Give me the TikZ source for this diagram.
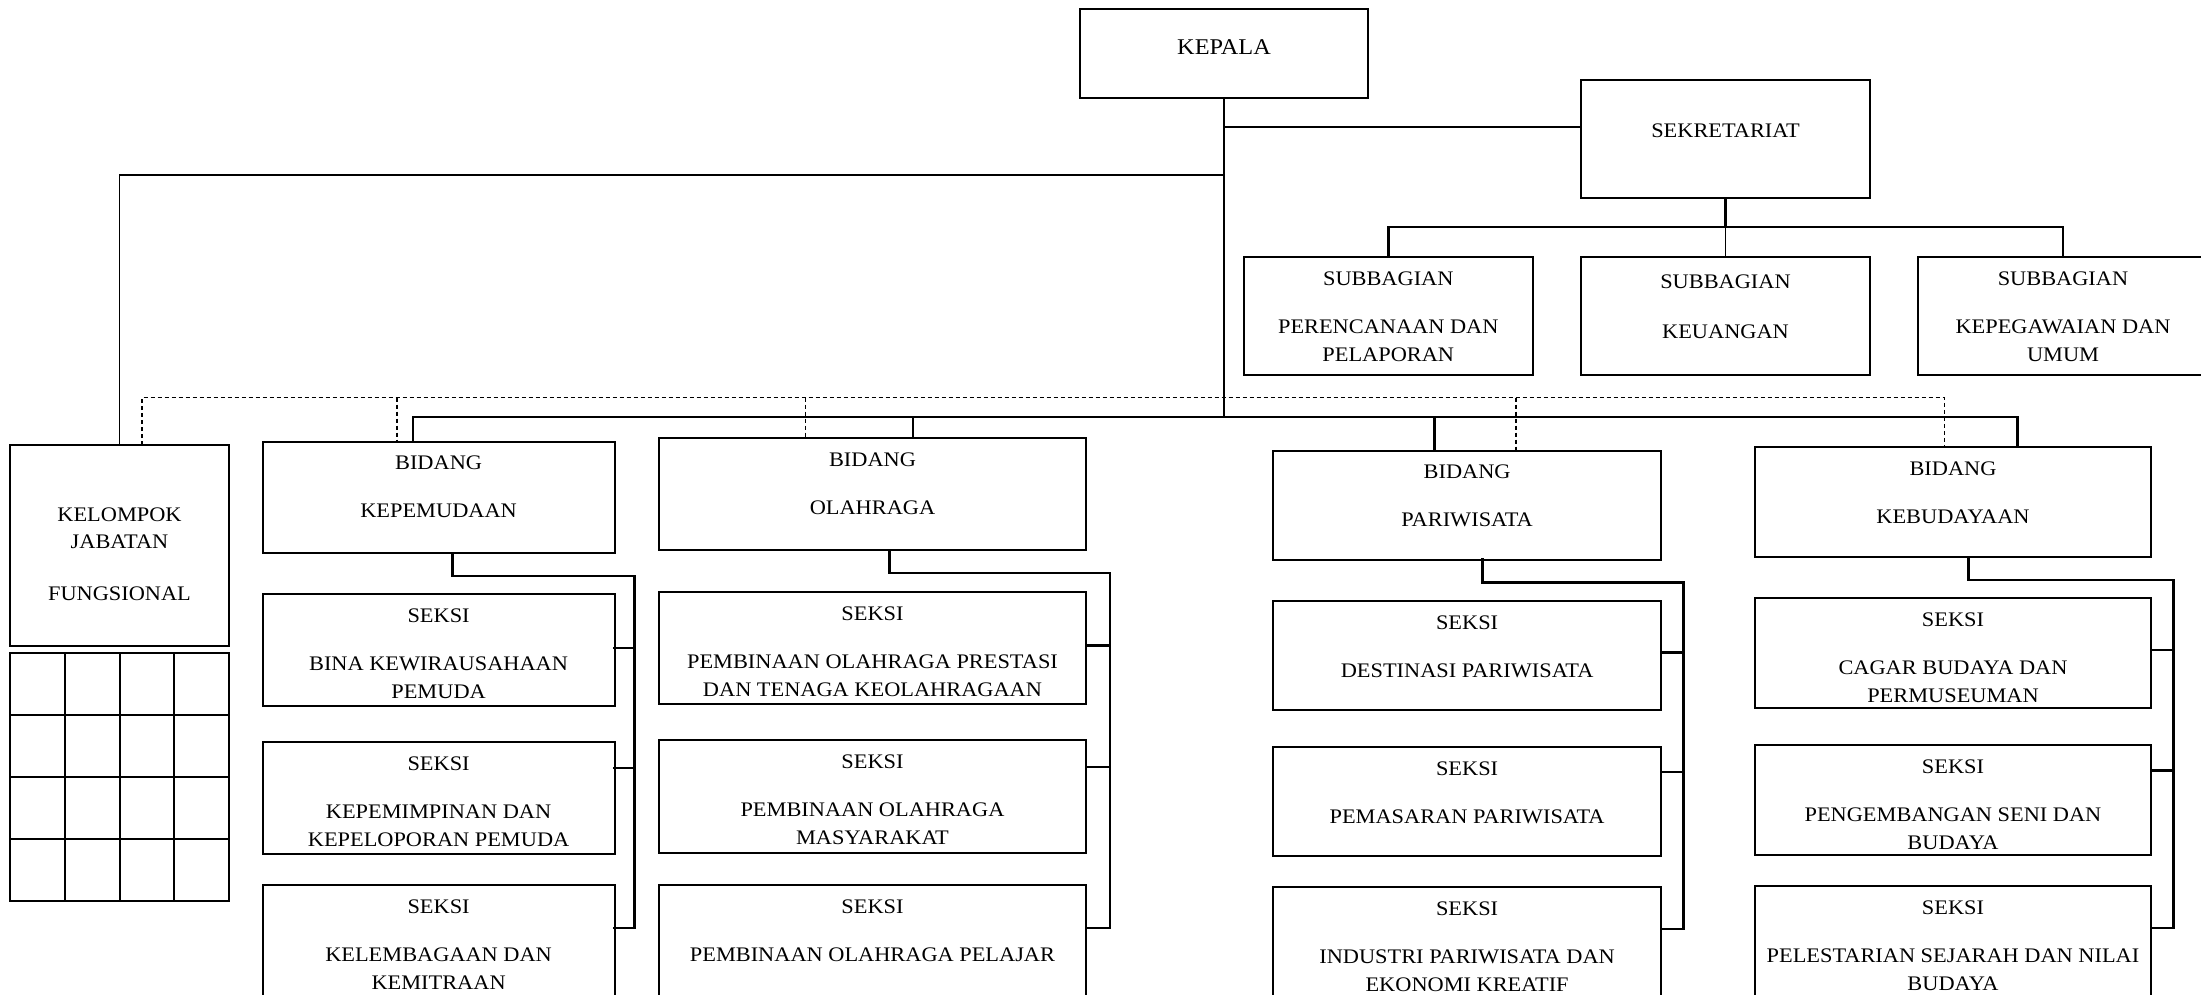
\documentclass[tikz,border=0pt]{standalone}
\usepackage{fontspec}
\setmainfont{Liberation Serif}[FakeStretch=1.08]
\usetikzlibrary{calc}
\tikzset{
  box/.style={draw, line width=2pt, rectangle, inner sep=0pt, outer sep=0pt},
  lbl/.style={anchor=base, inner sep=0pt, font=\fontsize{20.7}{24}\selectfont},
  biglbl/.style={anchor=base, inner sep=0pt, font=\fontsize{22.5}{26}\selectfont},
  conn/.style={line width=2.8pt, line cap=rect},
  thinline/.style={line width=1.5pt},
  dashline/.style={line width=1.6pt, dash pattern=on 4.5pt off 2.5pt},
}
\newcommand\orgbox[8]{%
  \node[box, minimum width={#4-#2}, minimum height={#5-#3}, anchor=north west] (#1) at (#2,#3) {};
  \node[lbl] (#1-a) at ($(#1.north)+(0,28.35)$) {#6};
  \node[lbl] (#1-b) at ($(#1.north)+(0,76.35)$) {#7};
  \if\relax\detokenize{#8}\relax\else
  \node[lbl] (#1-c) at ($(#1.north)+(0,104.35)$) {#8};\fi
}
\begin{document}
\begin{tikzpicture}[x=1pt,y=-1pt]
\useasboundingbox (0,0) rectangle (2201,995);
\clip (0,0) rectangle (2201,995);

% top level
\node[box, minimum width=288, minimum height=89, anchor=north west] (kepala) at (1080,9) {};
\node[biglbl] (kepala-t) at (1224,54.2) {KEPALA};
\node[box, minimum width=289, minimum height=118, anchor=north west] (sekr) at (1581,80) {};
\node[lbl] (sekr-t) at (1725.5,137.85) {SEKRETARIAT};

% subbagian
\orgbox{sub1}{1243.6}{257}{1533}{375}{SUBBAGIAN}{PERENCANAAN DAN}{PELAPORAN}
\node[box, minimum width=289, minimum height=118, anchor=north west] (sub2) at (1581,257) {};
\node[lbl] (sub2-a) at (1725.5,288.85) {SUBBAGIAN};
\node[lbl] (sub2-b) at (1725.5,338.85) {KEUANGAN};
\orgbox{sub3}{1918}{257}{2208}{375}{SUBBAGIAN}{KEPEGAWAIAN DAN}{UMUM}

% kelompok jabatan fungsional
\node[box, minimum width=219, minimum height=200.5, anchor=north west] (kel) at (10,445) {};
\node[lbl] (kel-a) at (119.5,521.85) {KELOMPOK};
\node[lbl] (kel-b) at (119.5,548.45) {JABATAN};
\node[lbl] (kel-c) at (119.5,600.55) {FUNGSIONAL};
\node[box, minimum width=219, minimum height=247.5, anchor=north west] (grid) at (10,653.3) {};
\foreach \i in {1,2,3}{
  \draw[line width=2pt] ($(grid.north west)+(\i*54.75,0)$) -- ($(grid.south west)+(\i*54.75,0)$);
  \draw[line width=2pt] ($(grid.north west)+(0,\i*61.875)$) -- ($(grid.north east)+(0,\i*61.875)$);
}

% bidang
\orgbox{bk}{262.5}{441.6}{614.7}{553}{BIDANG}{KEPEMUDAAN}{}
\orgbox{ob}{659}{438}{1086}{550}{BIDANG}{OLAHRAGA}{}
\orgbox{pb}{1272.8}{450.6}{1661.4}{559.6}{BIDANG}{PARIWISATA}{}
\orgbox{kb}{1754.7}{446.7}{2151.3}{556.9}{BIDANG}{KEBUDAYAAN}{}

% seksi kepemudaan
\orgbox{K1}{262.5}{594}{614.7}{705.5}{SEKSI}{BINA KEWIRAUSAHAAN}{PEMUDA}
\orgbox{K2}{262.5}{742}{614.7}{853.7}{SEKSI}{KEPEMIMPINAN DAN}{KEPELOPORAN PEMUDA}
\orgbox{K3}{262.5}{885}{614.7}{1000}{SEKSI}{KELEMBAGAAN DAN}{KEMITRAAN}
% seksi olahraga
\orgbox{O1}{659}{591.8}{1086}{704}{SEKSI}{PEMBINAAN OLAHRAGA PRESTASI}{DAN TENAGA KEOLAHRAGAAN}
\orgbox{O2}{659}{740}{1086}{853}{SEKSI}{PEMBINAAN OLAHRAGA}{MASYARAKAT}
\orgbox{O3}{659}{884.7}{1086}{1000}{SEKSI}{PEMBINAAN OLAHRAGA PELAJAR}{}
% seksi pariwisata
\orgbox{P1}{1272.8}{600.8}{1661.4}{710}{SEKSI}{DESTINASI PARIWISATA}{}
\orgbox{P2}{1272.8}{746.7}{1661.4}{856}{SEKSI}{PEMASARAN PARIWISATA}{}
\orgbox{P3}{1272.8}{887}{1661.4}{1000}{SEKSI}{INDUSTRI PARIWISATA DAN}{EKONOMI KREATIF}
% seksi kebudayaan
\orgbox{B1}{1754.7}{598}{2151.3}{707.8}{SEKSI}{CAGAR BUDAYA DAN}{PERMUSEUMAN}
\orgbox{B2}{1754.7}{744.7}{2151.3}{855.3}{SEKSI}{PENGEMBANGAN SENI DAN}{BUDAYA}
\orgbox{B3}{1754.7}{886.3}{2151.3}{1000}{SEKSI}{PELESTARIAN SEJARAH DAN NILAI}{BUDAYA}

% ---- connectors ----
\coordinate (busL) at (413,417);
\coordinate (busR) at (2017.3,417);
\coordinate (oj) at (913,417);
\coordinate (pj) at (1434.8,417);
\coordinate (sj) at (1224,127);
\coordinate (kj) at (1224,175);
\coordinate (sbar) at (1725.5,227);

\draw[conn] (kepala.south) -- (kepala.south |- busL);
\draw[conn] (busL |- bk.north) -- (busL) -- (busR) -- (busR |- kb.north);
\draw[conn] (oj) -- (oj |- ob.north);
\draw[conn] (pj) -- (pj |- pb.north);
\draw[conn] (sj) -- (sj -| sekr.west);
\draw[thinline] (kj) -- (kj -| kel.north) -- (kel.north);

\draw[conn] (sekr.south) -- (sekr.south |- sbar);
\draw[conn] (sub1.north) -- (sub1.north |- sbar) -- (sub3.north |- sbar) -- (sub3.north);
\draw[thinline] (sbar) -- (sub2.north);

% dashed coordination line
\coordinate (dL) at (142,397.6);
\coordinate (dR) at (1944.3,397.6);
\coordinate (d2) at (397,397.6);
\coordinate (d3) at (805.6,397.6);
\coordinate (d4) at (1516,397.6);
\draw[dashline] (kel.north -| dL) -- (dL) -- (dR) -- (dR |- kb.north);
\draw[dashline] (d2) -- (d2 |- bk.north);
\draw[dashline] (d3) -- (d3 |- ob.north);
\draw[dashline] (d4) -- (d4 |- pb.north);

% kepemudaan seksi connectors
\coordinate (kA) at (452.2,576); \coordinate (kB) at (634.4,576); \coordinate (kC) at (634.4,928);
\coordinate (k1) at (634.4,648); \coordinate (k2) at (634.4,768);
\draw[conn] (bk.south -| kA) -- (kA) -- (kB) -- (kC) -- (kC -| K3.east);
\draw[conn] (k1) -- (k1 -| K1.east);
\draw[conn] (k2) -- (k2 -| K2.east);
% olahraga
\coordinate (oA) at (889.7,573); \coordinate (oB) at (1110,573); \coordinate (oC) at (1110,928);
\coordinate (o1) at (1110,645.5); \coordinate (o2) at (1110,767);
\draw[conn] (ob.south -| oA) -- (oA) -- (oB) -- (oC) -- (oC -| O3.east);
\draw[conn] (o1) -- (o1 -| O1.east);
\draw[conn] (o2) -- (o2 -| O2.east);
% pariwisata
\coordinate (pA) at (1482.5,582.7); \coordinate (pB) at (1683.8,582.7); \coordinate (pC) at (1683.8,929);
\coordinate (p1) at (1683.8,652.5); \coordinate (p2) at (1683.8,772);
\draw[conn] (pb.south -| pA) -- (pA) -- (pB) -- (pC) -- (pC -| P3.east);
\draw[conn] (p1) -- (p1 -| P1.east);
\draw[conn] (p2) -- (p2 -| P2.east);
% kebudayaan
\coordinate (bA) at (1968.7,580); \coordinate (bB) at (2173.7,580); \coordinate (bC) at (2173.7,928);
\coordinate (b1) at (2173.7,650); \coordinate (b2) at (2173.7,770.6);
\draw[conn] (kb.south -| bA) -- (bA) -- (bB) -- (bC) -- (bC -| B3.east);
\draw[conn] (b1) -- (b1 -| B1.east);
\draw[conn] (b2) -- (b2 -| B2.east);
\end{tikzpicture}
\end{document}
